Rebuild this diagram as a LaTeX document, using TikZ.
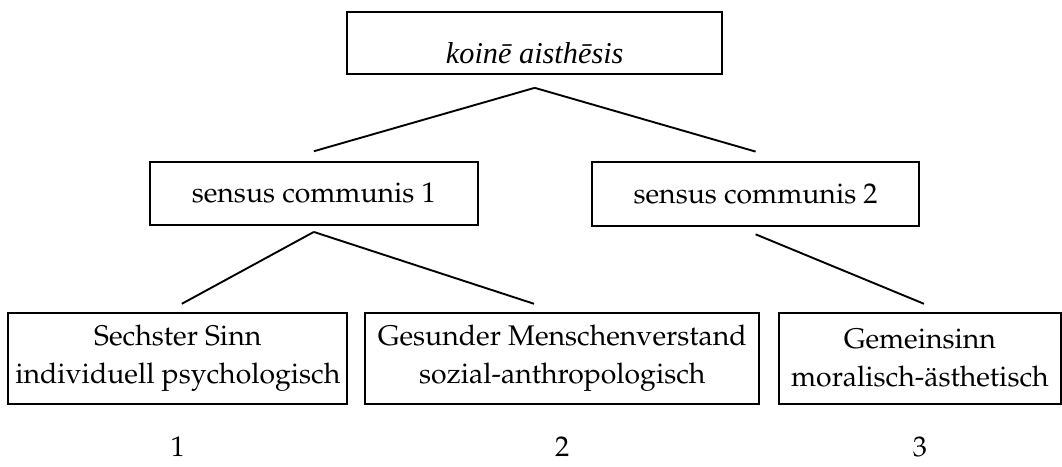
\documentclass[tikz,border=0pt]{standalone}
\usepackage{fontspec}
\newfontfamily\koinefont{Liberation Serif}
\usepackage[T1]{fontenc}
\usepackage{palatino}
\usepackage{tikz}
\usetikzlibrary{positioning}

\begin{document}
\begin{tikzpicture}[every node/.style={font=\large},
    box/.style={draw, thick, align=center, inner sep=2pt},
    link/.style={thick}]
      \useasboundingbox (0,0) rectangle (15.77,-6.92);
      \node[box, minimum width=5.57cm, minimum height=0.92cm, text height=17pt] (koine) at (7.94,-0.64) {\koinefont\fontsize{12.8}{15}\selectfont\itshape koinē aisthēsis};
      \node[box, minimum width=4.87cm, minimum height=0.94cm] (sc1) at (4.66,-2.87) {sensus communis 1};
      \node[box, minimum width=4.86cm, minimum height=0.95cm] (sc2) at (11.22,-2.88) {sensus communis 2};
      \node[box, minimum width=5.03cm, minimum height=1.35cm] (sechster) at (2.64,-5.32) {Sechster Sinn\\[2pt] individuell psychologisch};
      \node[box, minimum width=5.85cm, minimum height=1.35cm] (gesunder) at (8.35,-5.32) {Gesunder Menschenverstand\\[2pt] sozial-anthropologisch};
      \node[box, minimum width=4.19cm, minimum height=1.35cm] (gemeinsinn) at (13.66,-5.32) {Gemeinsinn\\[2pt] moralisch-\"asthetisch};
      \node[below=0.36cm of sechster] (num1) {1};
      \node[below=0.36cm of gesunder] (num2) {2};
      \node[below=0.36cm of gemeinsinn] (num3) {3};
      \draw[link] ([yshift=-0.19cm]koine.south) -- ([yshift=0.14cm]sc1.north);
      \draw[link] ([yshift=-0.19cm]koine.south) -- ([yshift=0.14cm]sc2.north);
      \draw[link] ([yshift=-0.09cm]sc1.south) -- ([xshift=0.06cm, yshift=0.12cm]sechster.north);
      \draw[link] ([yshift=-0.09cm]sc1.south) -- ([xshift=-0.42cm, yshift=0.12cm]gesunder.north);
      \draw[link] ([yshift=-0.11cm]sc2.south) -- ([xshift=0.06cm, yshift=0.12cm]gemeinsinn.north);
    \end{tikzpicture}
\end{document}
